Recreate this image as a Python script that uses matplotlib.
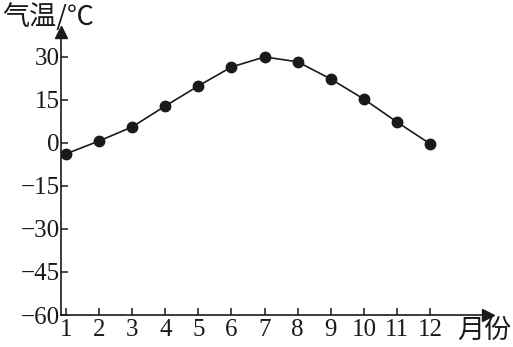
import matplotlib.pyplot as plt

months = [1, 2, 3, 4, 5, 6, 7, 8, 9, 10, 11, 12]
temps = [-3.8, 0.7, 5.6, 12.9, 19.9, 26.5, 30.0, 28.3, 22.3, 15.3, 7.3, -0.3]
y_ticks = [30, 15, 0, -15, -30, -45, -60]
y_labels = ['30', '15', '0', '\u221215', '\u221230', '\u221245', '\u221260']

serif = ['Liberation Serif', 'DejaVu Serif']
cjk = ['Noto Sans CJK SC', 'DejaVu Sans']

fig = plt.figure(figsize=(5.13, 3.47), dpi=100)
ax = fig.add_axes([61 / 513, 32 / 347, 427 / 513, 283 / 347])

ax.plot(months, temps, color='#1a1a1a', lw=1.2, marker='o', ms=7.5,
        markerfacecolor='#1a1a1a', markeredgecolor='#1a1a1a')

ax.set_xlim(0.849, 13.75)
ax.set_ylim(-60, 38.7)

for s in ['top', 'right']:
    ax.spines[s].set_visible(False)
for s in ['left', 'bottom']:
    ax.spines[s].set_linewidth(1.2)
    ax.spines[s].set_color('#1a1a1a')

# arrow heads at the ends of the axes
ax.plot(1, 0, '>', color='#1a1a1a', ms=8, transform=ax.transAxes, clip_on=False)
ax.plot(0, 1, '^', color='#1a1a1a', ms=8, transform=ax.transAxes, clip_on=False)

ax.set_xticks(months)
ax.set_xticklabels([str(m) for m in months], fontfamily=serif, fontsize=18)
ax.set_yticks(y_ticks)
ax.set_yticklabels(y_labels, fontfamily=serif, fontsize=18)
ax.tick_params(axis='both', direction='in', length=5, width=1.1, color='#1a1a1a',
               labelcolor='#1a1a1a')
ax.tick_params(axis='x', pad=3)
ax.tick_params(axis='y', pad=1)

fig.text(2 / 513, 1 - 17 / 347, '气温/℃', fontfamily=cjk, fontsize=19.5,
         va='center', ha='left', color='#1a1a1a')
fig.text(511 / 513, 1 - 330 / 347, '月份', fontfamily=cjk, fontsize=19.5,
         va='center', ha='right', color='#1a1a1a')

fig.savefig('out.png', dpi=100)
